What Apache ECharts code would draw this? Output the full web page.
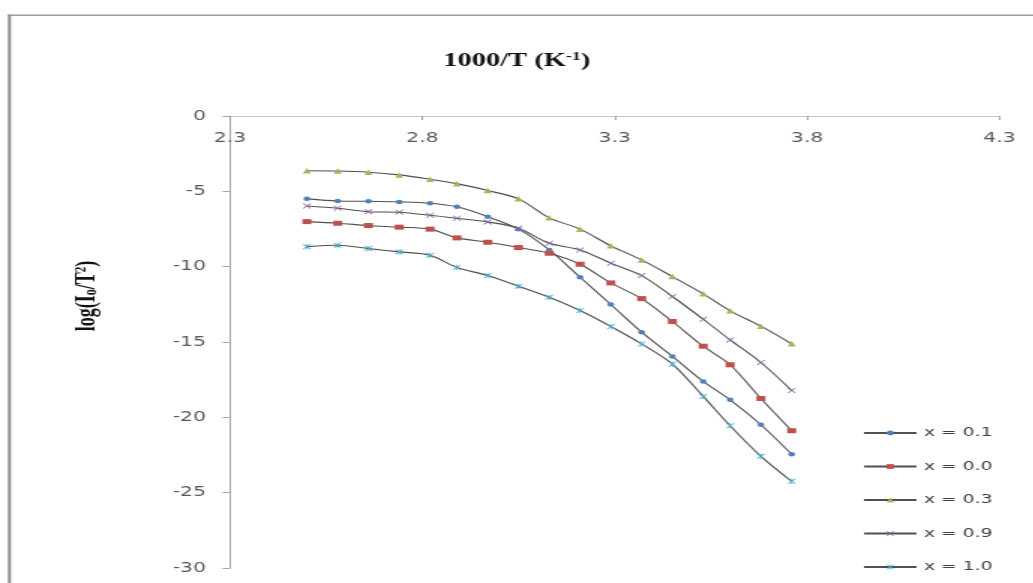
<!DOCTYPE html>
<html><head><meta charset="utf-8">
<script src="https://cdn.jsdelivr.net/npm/echarts@6/dist/echarts.min.js"></script>
<style>
html,body{margin:0;padding:0;background:#fff;overflow:hidden;width:1033px;height:583px}
#wrap{width:689px;height:583px;transform:scaleX(1.5);transform-origin:0 0;}
</style></head><body><div id="wrap"></div>
<script>
// 1000/T values (K^-1)
const xValues = [2.50, 2.58, 2.66, 2.74, 2.82, 2.89, 2.97, 3.05, 3.13, 3.21, 3.29, 3.37, 3.45, 3.53, 3.60, 3.68, 3.76];
const seriesNames = ['x = 0.1', 'x = 0.0', 'x = 0.3', 'x = 0.9', 'x = 1.0'];
const yX01 = [-5.50, -5.64, -5.66, -5.70, -5.79, -6.03, -6.68, -7.51, -8.89, -10.70, -12.51, -14.35, -15.96, -17.62, -18.84, -20.49, -22.45];
const yX00 = [-7.01, -7.12, -7.27, -7.38, -7.51, -8.09, -8.38, -8.73, -9.11, -9.84, -11.08, -12.12, -13.64, -15.28, -16.51, -18.75, -20.89];
const yX03 = [-3.63, -3.65, -3.73, -3.91, -4.20, -4.49, -4.95, -5.50, -6.76, -7.51, -8.62, -9.55, -10.66, -11.80, -12.93, -13.95, -15.12];
const yX09 = [-5.97, -6.12, -6.35, -6.39, -6.59, -6.79, -7.03, -7.45, -8.45, -8.89, -9.77, -10.59, -11.98, -13.49, -14.86, -16.36, -18.22];
const yX10 = [-8.67, -8.58, -8.80, -9.02, -9.24, -10.06, -10.59, -11.30, -12.03, -12.91, -13.97, -15.13, -16.47, -18.61, -20.56, -22.59, -24.25];
const xTicks = [2.3, 2.8, 3.3, 3.8, 4.3];
const yTicks = [0, -5, -10, -15, -20, -25, -30];

const allY = [yX01, yX00, yX03, yX09, yX10];
const markerColors = ['#4F81BD', '#C0504D', '#9BBB59', '#8064A2', '#4BACC6'];
const crossPath = 'path://M1,0L5,4L9,0L10,1L6,5L10,9L9,10L5,6L1,10L0,9L4,5L0,1Z';
const starPath = 'path://M1,0L5,4L9,0L10,1L6,5L10,9L9,10L5,6L1,10L0,9L4,5L0,1ZM4.4,0L5.6,0L5.6,10L4.4,10Z';
const symbols = ['circle', 'rect', 'triangle', crossPath, starPath];
const symbolSizes = [4.5, [6, 5], 5.5, 5.5, 5.5];

const chart = echarts.init(document.getElementById('wrap'), null, {renderer: 'canvas'});
const tickFont = 'DejaVu Sans';

const series = seriesNames.map((name, i) => ({
  name: name,
  type: 'line',
  data: xValues.map((x, j) => [x, allY[i][j]]),
  symbol: symbols[i],
  symbolSize: symbolSizes[i],
  smooth: 0.3,
  lineStyle: {color: '#505050', width: 1.1},
  itemStyle: {color: markerColors[i]},
  z: 3
}));

chart.setOption({
  animation: false,
  backgroundColor: '#fff',
  title: {
    text: '1000/T (K{sup|-1})',
    left: 'center',
    top: 46,
    textStyle: {
      fontFamily: 'Liberation Serif', fontWeight: 'bold', fontSize: 19, color: '#111',
      rich: {sup: {fontFamily: 'Liberation Serif', fontWeight: 'bold', fontSize: 12, verticalAlign: 'top', padding: [0, 0, 8, 0], color: '#111'}}
    }
  },
  grid: {left: 153.3, right: 22.7, top: 116, bottom: 15, containLabel: false},
  xAxis: {
    type: 'value', position: 'top', min: 2.3, max: 4.3,
    axisLine: {show: true, lineStyle: {color: '#C8C8C8', width: 1}},
    axisTick: {show: true, inside: true, length: 4, customValues: xTicks, lineStyle: {color: '#A0A0A0'}},
    axisLabel: {show: true, inside: true, margin: 15, customValues: xTicks, color: '#595959', fontFamily: tickFont, fontSize: 13.5,
      formatter: v => v.toFixed(1)},
    splitLine: {show: false}
  },
  yAxis: {
    type: 'value', min: -30, max: 0, interval: 5,
    axisLine: {show: true, lineStyle: {color: '#A6A6A6', width: 1}},
    axisTick: {show: true, length: 5, lineStyle: {color: '#A6A6A6'}},
    axisLabel: {margin: 16, color: '#595959', fontFamily: tickFont, fontSize: 13.5},
    splitLine: {show: false}
  },
  legend: {
    orient: 'vertical', left: 575, top: 426.5, padding: 0, height: 150,
    data: seriesNames,
    itemWidth: 35, itemHeight: 6, itemGap: 20.5,
    textStyle: {fontFamily: tickFont, fontSize: 12.5, color: '#404040', padding: [0, 0, 0, 0]}
  },
  graphic: [
    {type: 'rect', shape: {x: 5.3, y: 14.5, width: 690, height: 1.5}, style: {fill: '#A0A0A0'}, silent: true},
    {type: 'rect', shape: {x: 5.3, y: 14.5, width: 2, height: 600}, style: {fill: '#8C8C8C'}, silent: true},
    {type: 'text', x: 58, y: 296, rotation: Math.PI / 2,
      style: {text: 'log(I{sub|o}/T{sup|2})', align: 'center', verticalAlign: 'middle',
        font: 'bold 18px "Liberation Serif"', fill: '#111',
        rich: {sub: {fontSize: 12, fontWeight: 'bold', fontFamily: 'Liberation Serif', verticalAlign: 'bottom', fill: '#111'},
               sup: {fontSize: 11, fontWeight: 'bold', fontFamily: 'Liberation Serif', verticalAlign: 'top', fill: '#111'}}}}
  ],
  series: series
});
</script></body></html>
